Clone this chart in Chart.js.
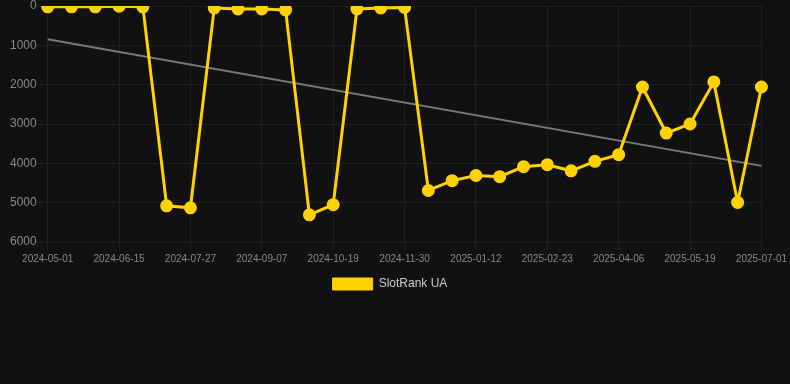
<!DOCTYPE html>
<html>
<head>
<meta charset="utf-8">
<script src="https://cdn.jsdelivr.net/npm/chart.js@4"></script>
<style>
  html, body { margin: 0; padding: 0; background: #111111; }
  #wrap { width: 790px; height: 300px; position: relative; }
</style>
</head>
<body>
<div id="wrap"><canvas id="c"></canvas></div>
<script>
const dates = [
  "2024-05-01","2024-05-16","2024-05-31","2024-06-15","2024-06-29","2024-07-13",
  "2024-07-27","2024-08-10","2024-08-24","2024-09-07","2024-09-21","2024-10-05",
  "2024-10-19","2024-11-02","2024-11-16","2024-11-30","2024-12-14","2024-12-29",
  "2025-01-12","2025-01-26","2025-02-09","2025-02-23","2025-03-09","2025-03-23",
  "2025-04-06","2025-04-20","2025-05-05","2025-05-19","2025-06-02","2025-06-16",
  "2025-07-01"
];
const rankValues = [
  20, 20, 20, 5, 20, 5080, 5130, 50, 75, 75, 100, 5310, 5050, 75, 50, 35,
  4690, 4440, 4310, 4340, 4085, 4035, 4190, 3950, 3780, 2060, 3230, 3000, 1930, 4995, 2060
];
const trendStart = 845;
const trendEnd = 4065;
const yTicks = [0, 1000, 2000, 3000, 4000, 5000, 6000];
const seriesName = "SlotRank UA";

const trendData = dates.map((d, i) => i === 0 ? trendStart : (i === dates.length - 1 ? trendEnd : null));

new Chart(document.getElementById('c'), {
  type: 'line',
  data: {
    labels: dates,
    datasets: [
      {
        label: seriesName,
        data: rankValues,
        borderColor: '#FFD200',
        backgroundColor: '#FFD200',
        borderWidth: 3,
        pointRadius: 5,
        pointHoverRadius: 5,
        pointBackgroundColor: '#FFD200',
        pointBorderColor: '#FFD200',
        tension: 0
      },
      {
        label: 'trend',
        data: trendData,
        borderColor: 'rgba(140,140,140,0.85)',
        backgroundColor: 'rgba(140,140,140,0.85)',
        borderWidth: 2,
        pointRadius: 0,
        spanGaps: true,
        tension: 0
      }
    ]
  },
  options: {
    responsive: true,
    maintainAspectRatio: false,
    animation: false,
    layout: { autoPadding: false, padding: { left: 10, right: 20, top: 0 } },
    plugins: {
      legend: {
        position: 'bottom',
        labels: {
          color: '#cccccc',
          font: { size: 12 },
          boxWidth: 40,
          filter: (item) => item.text === seriesName,
          generateLabels: (chart) => Chart.defaults.plugins.legend.labels.generateLabels(chart)
            .map(item => Object.assign(item, { lineWidth: 1 }))
        }
      },
      tooltip: { enabled: false }
    },
    scales: {
      x: {
        grid: {
          color: (ctx) => (ctx.index % 3 === 0 ? 'rgba(255,255,255,0.06)' : 'rgba(0,0,0,0)'),
        },
        border: { display: false },
        ticks: {
          color: '#888888',
          font: { size: 10 },
          autoSkip: false,
          maxRotation: 0,
          callback: function(value, index) { return index % 3 === 0 ? dates[index] : ''; }
        }
      },
      y: {
        reverse: true,
        min: yTicks[0],
        max: yTicks[yTicks.length - 1],
        grid: { color: 'rgba(255,255,255,0.06)', tickLength: 11 },
        border: { display: false },
        afterBuildTicks: (axis) => { axis.ticks = yTicks.map(v => ({ value: v })); },
        ticks: {
          color: '#888888',
          padding: 0,
          font: { size: 12, lineHeight: 1 },
          callback: (v) => String(v)
        }
      }
    }
  }
});
</script>
</body>
</html>
